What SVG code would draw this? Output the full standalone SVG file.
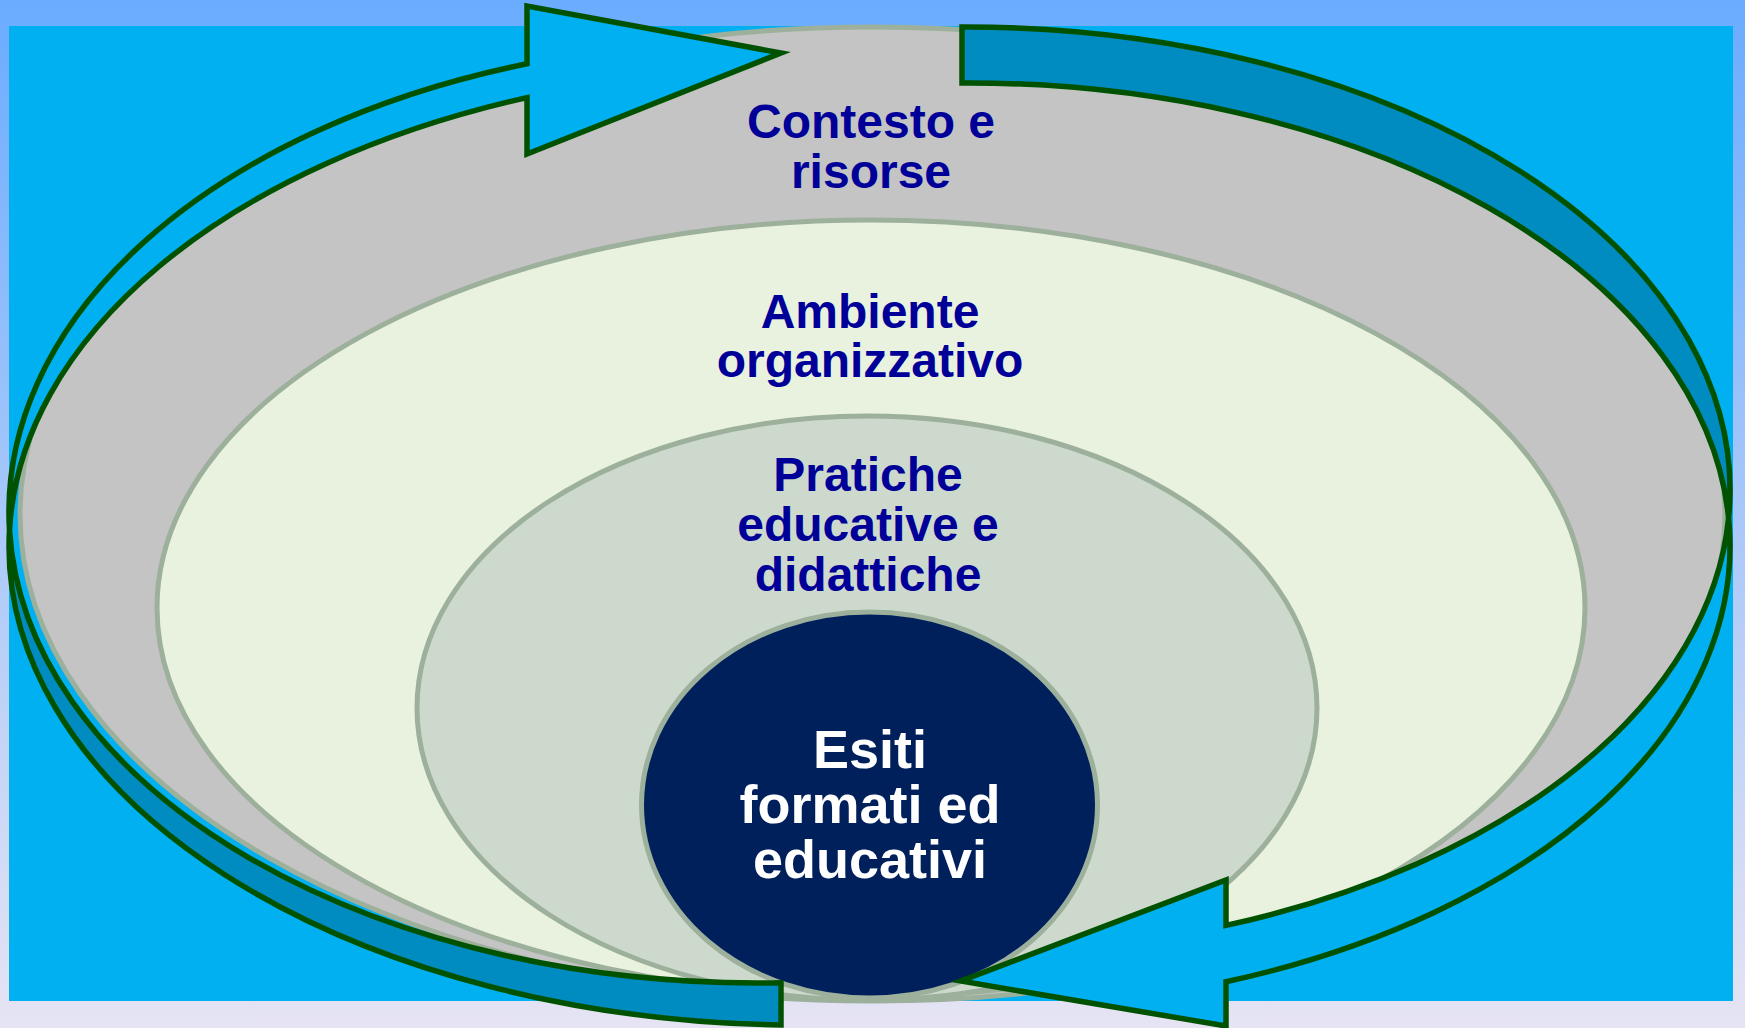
<svg xmlns="http://www.w3.org/2000/svg" width="1745" height="1028" viewBox="0 0 1745 1028">
<defs>
<linearGradient id="bg" x1="0" y1="0" x2="0" y2="1">
<stop offset="0" stop-color="#6AACFF"/>
<stop offset="1" stop-color="#E6E4F4"/>
</linearGradient>
<style>
.ring{stroke:#9CB09C;stroke-width:5}
.lbl{font-family:"Liberation Sans",Arial,sans-serif;font-weight:bold;font-size:48px;fill:#000099;text-anchor:middle}
.lblw{font-family:"Liberation Sans",Arial,sans-serif;font-weight:bold;font-size:54px;fill:#FFFFFF;text-anchor:middle}
.arr{stroke:#005200;stroke-width:5.5;stroke-linejoin:miter;stroke-miterlimit:6}
.light{fill:#00B0F0}
.dark{fill:#008CC0}
</style>
</defs>
<rect x="0" y="0" width="1745" height="1028" fill="url(#bg)"/>
<rect x="9" y="26" width="1724" height="975" fill="#00B0F0"/>

<g id="contesto">
<ellipse class="ring" cx="872.5" cy="514" rx="852.5" ry="487" fill="#C4C4C4"/>
<text class="lbl" x="871" y="138">Contesto e</text>
<text class="lbl" x="871" y="188">risorse</text>
</g>

<g id="ambiente">
<ellipse class="ring" cx="871" cy="608" rx="714" ry="388" fill="#E9F2DE"/>
<text class="lbl" x="870" y="328">Ambiente</text>
<text class="lbl" x="870" y="377">organizzativo</text>
</g>

<g id="pratiche">
<ellipse class="ring" cx="867" cy="708" rx="450" ry="292" fill="#CDD9CD"/>
<text class="lbl" x="868" y="491">Pratiche</text>
<text class="lbl" x="868" y="541">educative e</text>
<text class="lbl" x="868" y="591">didattiche</text>
</g>

<g id="esiti">
<ellipse class="ring" cx="869.5" cy="805" rx="228" ry="193" fill="#00205C"/>
<text class="lblw" x="870" y="768">Esiti</text>
<text class="lblw" x="870" y="823">formati ed</text>
<text class="lblw" x="870" y="878">educativi</text>
</g>

<g id="connectors">
<g id="arrow-left">
<path class="arr dark" d="M 9.5,530 A 748 471 0 0 0 781,982.8 L 781,1025 A 793 478.6 0 0 1 9.5,530 Z"/>
<path class="arr light" d="M 9.5,530 A 748 471 0 0 1 527,63.8 L 527,6 L 781,53 L 527,154 L 527,97.6 A 793 478.6 0 0 0 9.5,530 Z"/>
</g>
<g id="arrow-right">
<path class="arr dark" d="M 962,27 A 764 463 0 0 1 1728.6,518 A 761 463 0 0 0 962,83 Z"/>
<path class="arr light" d="M 1728.6,518 A 764 463 0 0 1 1226,925.4 L 1226,880 L 961,981 L 1226,1026 L 1226,981.8 A 761 463 0 0 0 1728.6,518 Z"/>
</g>
</g>
</svg>
